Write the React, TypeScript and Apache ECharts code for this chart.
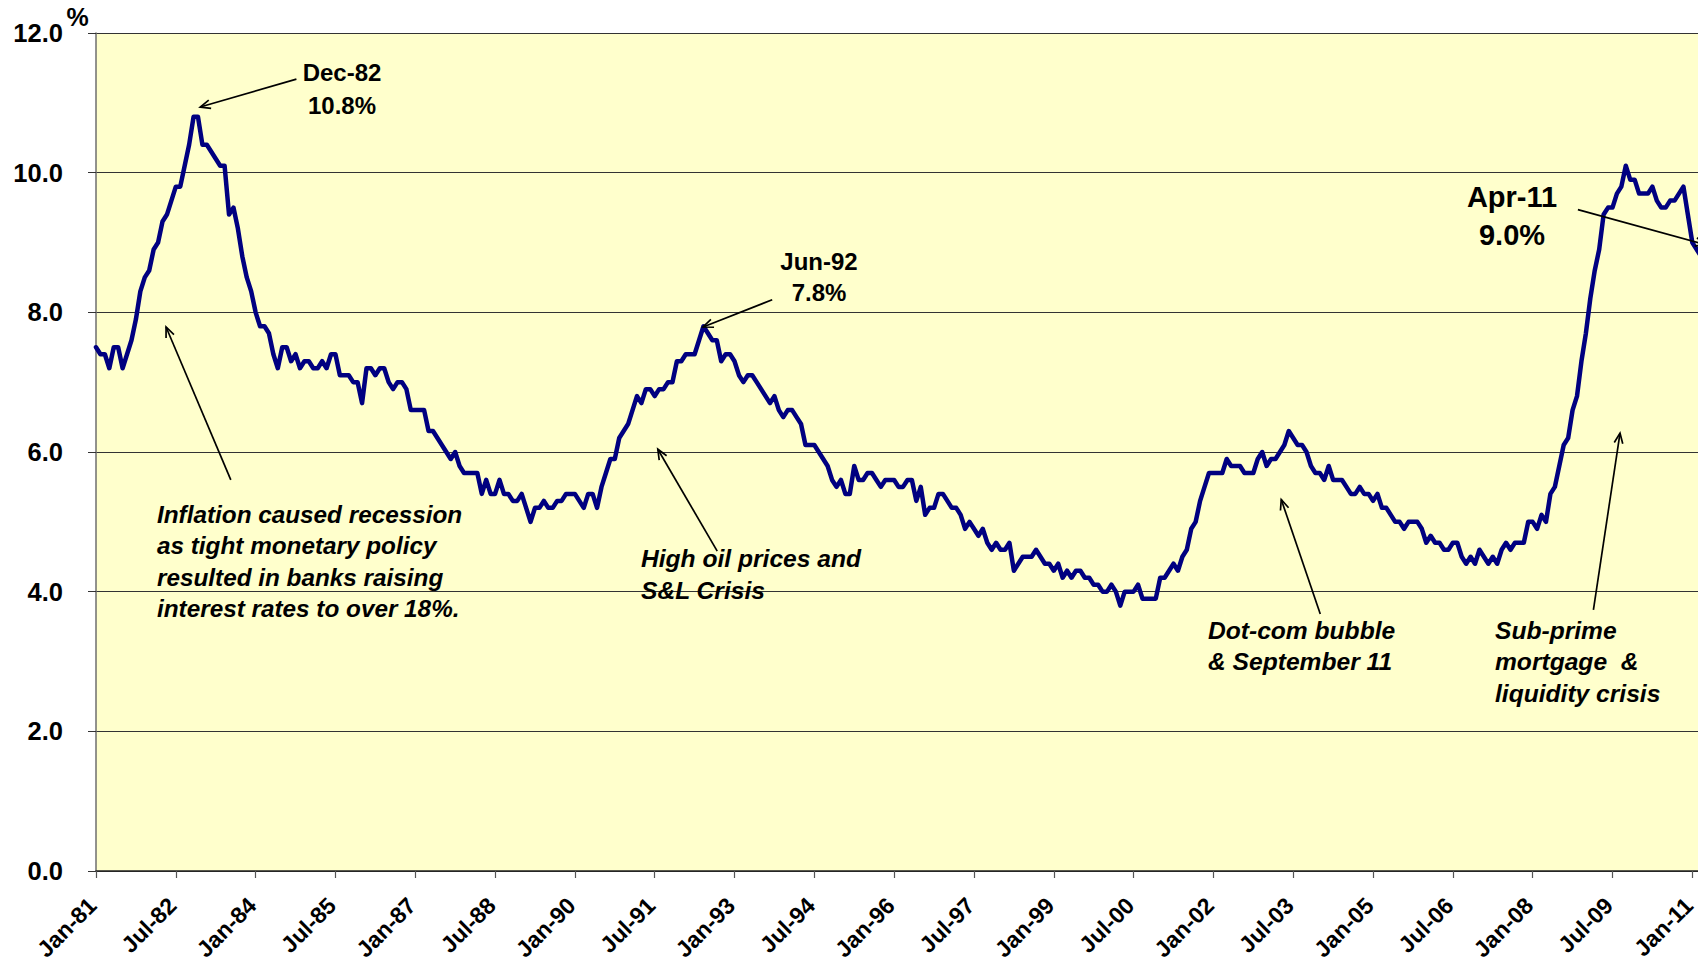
import React, { useEffect, useRef } from "react";
import * as echarts from "echarts";

// ---- Data: US civilian unemployment rate (%), monthly, Jan-81 .. Apr-11 ----
const START_YEAR = 1981;
const MONTH_NAMES = ["Jan", "Feb", "Mar", "Apr", "May", "Jun", "Jul", "Aug", "Sep", "Oct", "Nov", "Dec"];

const u1981 = [7.5, 7.4, 7.4, 7.2, 7.5, 7.5, 7.2, 7.4, 7.6, 7.9, 8.3, 8.5];
const u1982 = [8.6, 8.9, 9.0, 9.3, 9.4, 9.6, 9.8, 9.8, 10.1, 10.4, 10.8, 10.8];
const u1983 = [10.4, 10.4, 10.3, 10.2, 10.1, 10.1, 9.4, 9.5, 9.2, 8.8, 8.5, 8.3];
const u1984 = [8.0, 7.8, 7.8, 7.7, 7.4, 7.2, 7.5, 7.5, 7.3, 7.4, 7.2, 7.3];
const u1985 = [7.3, 7.2, 7.2, 7.3, 7.2, 7.4, 7.4, 7.1, 7.1, 7.1, 7.0, 7.0];
const u1986 = [6.7, 7.2, 7.2, 7.1, 7.2, 7.2, 7.0, 6.9, 7.0, 7.0, 6.9, 6.6];
const u1987 = [6.6, 6.6, 6.6, 6.3, 6.3, 6.2, 6.1, 6.0, 5.9, 6.0, 5.8, 5.7];
const u1988 = [5.7, 5.7, 5.7, 5.4, 5.6, 5.4, 5.4, 5.6, 5.4, 5.4, 5.3, 5.3];
const u1989 = [5.4, 5.2, 5.0, 5.2, 5.2, 5.3, 5.2, 5.2, 5.3, 5.3, 5.4, 5.4];
const u1990 = [5.4, 5.3, 5.2, 5.4, 5.4, 5.2, 5.5, 5.7, 5.9, 5.9, 6.2, 6.3];
const u1991 = [6.4, 6.6, 6.8, 6.7, 6.9, 6.9, 6.8, 6.9, 6.9, 7.0, 7.0, 7.3];
const u1992 = [7.3, 7.4, 7.4, 7.4, 7.6, 7.8, 7.7, 7.6, 7.6, 7.3, 7.4, 7.4];
const u1993 = [7.3, 7.1, 7.0, 7.1, 7.1, 7.0, 6.9, 6.8, 6.7, 6.8, 6.6, 6.5];
const u1994 = [6.6, 6.6, 6.5, 6.4, 6.1, 6.1, 6.1, 6.0, 5.9, 5.8, 5.6, 5.5];
const u1995 = [5.6, 5.4, 5.4, 5.8, 5.6, 5.6, 5.7, 5.7, 5.6, 5.5, 5.6, 5.6];
const u1996 = [5.6, 5.5, 5.5, 5.6, 5.6, 5.3, 5.5, 5.1, 5.2, 5.2, 5.4, 5.4];
const u1997 = [5.3, 5.2, 5.2, 5.1, 4.9, 5.0, 4.9, 4.8, 4.9, 4.7, 4.6, 4.7];
const u1998 = [4.6, 4.6, 4.7, 4.3, 4.4, 4.5, 4.5, 4.5, 4.6, 4.5, 4.4, 4.4];
const u1999 = [4.3, 4.4, 4.2, 4.3, 4.2, 4.3, 4.3, 4.2, 4.2, 4.1, 4.1, 4.0];
const u2000 = [4.0, 4.1, 4.0, 3.8, 4.0, 4.0, 4.0, 4.1, 3.9, 3.9, 3.9, 3.9];
const u2001 = [4.2, 4.2, 4.3, 4.4, 4.3, 4.5, 4.6, 4.9, 5.0, 5.3, 5.5, 5.7];
const u2002 = [5.7, 5.7, 5.7, 5.9, 5.8, 5.8, 5.8, 5.7, 5.7, 5.7, 5.9, 6.0];
const u2003 = [5.8, 5.9, 5.9, 6.0, 6.1, 6.3, 6.2, 6.1, 6.1, 6.0, 5.8, 5.7];
const u2004 = [5.7, 5.6, 5.8, 5.6, 5.6, 5.6, 5.5, 5.4, 5.4, 5.5, 5.4, 5.4];
const u2005 = [5.3, 5.4, 5.2, 5.2, 5.1, 5.0, 5.0, 4.9, 5.0, 5.0, 5.0, 4.9];
const u2006 = [4.7, 4.8, 4.7, 4.7, 4.6, 4.6, 4.7, 4.7, 4.5, 4.4, 4.5, 4.4];
const u2007 = [4.6, 4.5, 4.4, 4.5, 4.4, 4.6, 4.7, 4.6, 4.7, 4.7, 4.7, 5.0];
const u2008 = [5.0, 4.9, 5.1, 5.0, 5.4, 5.5, 5.8, 6.1, 6.2, 6.6, 6.8, 7.3];
const u2009 = [7.7, 8.2, 8.6, 8.9, 9.4, 9.5, 9.5, 9.7, 9.8, 10.1, 9.9, 9.9];
const u2010 = [9.7, 9.7, 9.7, 9.8, 9.6, 9.5, 9.5, 9.6, 9.6, 9.7, 9.8, 9.4];
const u2011 = [9.0, 8.9, 8.8, 9.0];

const unemployment: number[] = [
  ...u1981, ...u1982, ...u1983, ...u1984, ...u1985, ...u1986, ...u1987, ...u1988,
  ...u1989, ...u1990, ...u1991, ...u1992, ...u1993, ...u1994, ...u1995, ...u1996,
  ...u1997, ...u1998, ...u1999, ...u2000, ...u2001, ...u2002, ...u2003, ...u2004,
  ...u2005, ...u2006, ...u2007, ...u2008, ...u2009, ...u2010, ...u2011,
];

const categories: string[] = unemployment.map((_, i) => {
  const yr = (START_YEAR + Math.floor(i / 12)) % 100;
  return `${MONTH_NAMES[i % 12]}-${String(yr).padStart(2, "0")}`;
});

const Y_MIN = 0;
const Y_MAX = 12;
const Y_STEP = 2;
const LABEL_EVERY = 18; // months between x-axis labels

// Callout arrows in data space: [monthIndex, value] tail -> head
const arrows: { from: [number, number]; to: [number, number] }[] = [
  { from: [45.2, 11.34], to: [23.5, 10.94] }, // Dec-82
  { from: [152.5, 8.18], to: [136.9, 7.79] }, // Jun-92
  { from: [334.2, 9.47], to: [363, 8.97] }, // Apr-11
  { from: [30.4, 5.6], to: [15.8, 7.79] }, // Inflation
  { from: [140.1, 4.58], to: [126.7, 6.04] }, // High oil
  { from: [276.1, 3.68], to: [267.3, 5.32] }, // Dot-com
  { from: [337.7, 3.74], to: [343.7, 6.27] }, // Sub-prime
];

const FONT = '"Liberation Sans", Arial, Helvetica, sans-serif';

type Note = { lines: string[]; x: number; y: number; step: number; size: number; italic: boolean; align: string };
const notes: Note[] = [
  { lines: ["Dec-82", "10.8%"], x: 342, y: 72.5, step: 32.5, size: 24, italic: false, align: "center" },
  { lines: ["Jun-92", "7.8%"], x: 819, y: 261, step: 31.5, size: 24, italic: false, align: "center" },
  { lines: ["Apr-11", "9.0%"], x: 1512, y: 196.5, step: 38, size: 29, italic: false, align: "center" },
  {
    lines: ["Inflation caused recession", "as tight monetary policy", "resulted in banks raising", "interest rates to over 18%."],
    x: 157, y: 514.4, step: 31.4, size: 24.3, italic: true, align: "left",
  },
  { lines: ["High oil prices and", "S&L Crisis"], x: 641, y: 558.8, step: 31.4, size: 24.6, italic: true, align: "left" },
  { lines: ["Dot-com bubble", "& September 11"], x: 1208, y: 630.3, step: 31.4, size: 24.6, italic: true, align: "left" },
  { lines: ["Sub-prime", "mortgage  &", "liquidity crisis"], x: 1495, y: 630.3, step: 31.4, size: 24.6, italic: true, align: "left" },
];

// Plot area geometry (pixels)
const GRID_LEFT = 96;
const GRID_TOP = 33;
const GRID_WIDTH = 1609.6; // extends slightly beyond the right edge of the page, as in the original
const GRID_HEIGHT = 838;

export default function App() {
  const ref = useRef<HTMLDivElement>(null);

  useEffect(() => {
    const el = ref.current;
    if (!el) return;
    const chart = echarts.init(el, null, { renderer: "svg" });
    chart.setOption({
      animation: false,
      backgroundColor: "#ffffff",
      grid: {
        left: GRID_LEFT,
        top: GRID_TOP,
        width: GRID_WIDTH,
        height: GRID_HEIGHT,
        containLabel: false,
        outerBoundsMode: "none",
        show: true,
        backgroundColor: "#FFFFCC",
        borderWidth: 0,
      },
      xAxis: {
        type: "category",
        data: categories,
        boundaryGap: false,
        axisLine: { show: true, lineStyle: { color: "#222", width: 1.5 } },
        axisTick: { show: true, interval: LABEL_EVERY - 1, length: 7, lineStyle: { color: "#555", width: 1.2 } },
        axisLabel: {
          interval: LABEL_EVERY - 1,
          rotate: 45,
          margin: 27,
          padding: [0, 5, 0, 0],
          fontSize: 23,
          fontWeight: "bold",
          fontFamily: FONT,
          color: "#000",
        },
        splitLine: { show: false },
      },
      yAxis: {
        type: "value",
        min: Y_MIN,
        max: Y_MAX,
        interval: Y_STEP,
        axisLine: { show: true, lineStyle: { color: "#6e6e6e", width: 1.5 } },
        axisTick: { show: true, length: 8, lineStyle: { color: "#333", width: 1 } },
        axisLabel: {
          formatter: (v: number) => v.toFixed(1),
          margin: 33,
          fontSize: 25.5,
          fontWeight: "bold",
          fontFamily: FONT,
          color: "#000",
        },
        splitLine: { show: true, lineStyle: { color: "#333", width: 1 } },
      },
      series: [
        {
          type: "line",
          data: unemployment,
          showSymbol: false,
          symbol: "none",
          lineStyle: { color: "#000080", width: 4.5, join: "round", cap: "round" },
          z: 3,
        },
      ],
    });

    const lastIndex = unemployment.length - 1;
    const p0 = chart.convertToPixel({ gridIndex: 0 }, [0, Y_MIN]) as number[];
    const p1 = chart.convertToPixel({ gridIndex: 0 }, [lastIndex, Y_MAX]) as number[];
    const toPx = (i: number, v: number) => [
      p0[0] + ((p1[0] - p0[0]) * i) / lastIndex,
      p0[1] + ((p1[1] - p0[1]) * (v - Y_MIN)) / (Y_MAX - Y_MIN),
    ];

    const elements: any[] = [];
    arrows.forEach((a) => {
      const t = toPx(a.from[0], a.from[1]);
      const h = toPx(a.to[0], a.to[1]);
      const dx = h[0] - t[0];
      const dy = h[1] - t[1];
      const len = Math.hypot(dx, dy);
      const ux = dx / len;
      const uy = dy / len;
      const L = 11;
      const ang = 0.4;
      const rot = (x: number, y: number, r: number) => [x * Math.cos(r) - y * Math.sin(r), x * Math.sin(r) + y * Math.cos(r)];
      const b1 = rot(-ux * L, -uy * L, ang);
      const b2 = rot(-ux * L, -uy * L, -ang);
      elements.push({
        type: "line",
        shape: { x1: t[0], y1: t[1], x2: h[0], y2: h[1] },
        style: { stroke: "#000", lineWidth: 1.7 },
        z: 100,
      });
      elements.push({
        type: "polyline",
        shape: { points: [[h[0] + b1[0], h[1] + b1[1]], [h[0], h[1]], [h[0] + b2[0], h[1] + b2[1]]] },
        style: { stroke: "#000", lineWidth: 1.7, fill: "none" },
        z: 100,
      });
    });

    notes.forEach((n) => {
      n.lines.forEach((line, k) => {
        elements.push({
          type: "text",
          x: n.x,
          y: n.y + k * n.step,
          z: 101,
          style: {
            text: line,
            fill: "#000",
            fontSize: n.size,
            fontWeight: "bold",
            fontStyle: n.italic ? "italic" : "normal",
            fontFamily: FONT,
            textAlign: n.align,
            textVerticalAlign: "middle",
          },
        });
      });
    });

    // Percent sign next to the top y-axis label
    elements.push({
      type: "text",
      x: 77.5,
      y: 17,
      z: 101,
      style: {
        text: "%",
        fill: "#000",
        fontSize: 25,
        fontWeight: "bold",
        fontFamily: FONT,
        textAlign: "center",
        textVerticalAlign: "middle",
      },
    });

    chart.setOption({ graphic: elements });

    return () => {
      chart.dispose();
    };
  }, []);

  return (
    <div
      ref={ref}
      style={{ position: "absolute", left: 0, top: 0, width: 1698, height: 965, overflow: "hidden" }}
    />
  );
}
